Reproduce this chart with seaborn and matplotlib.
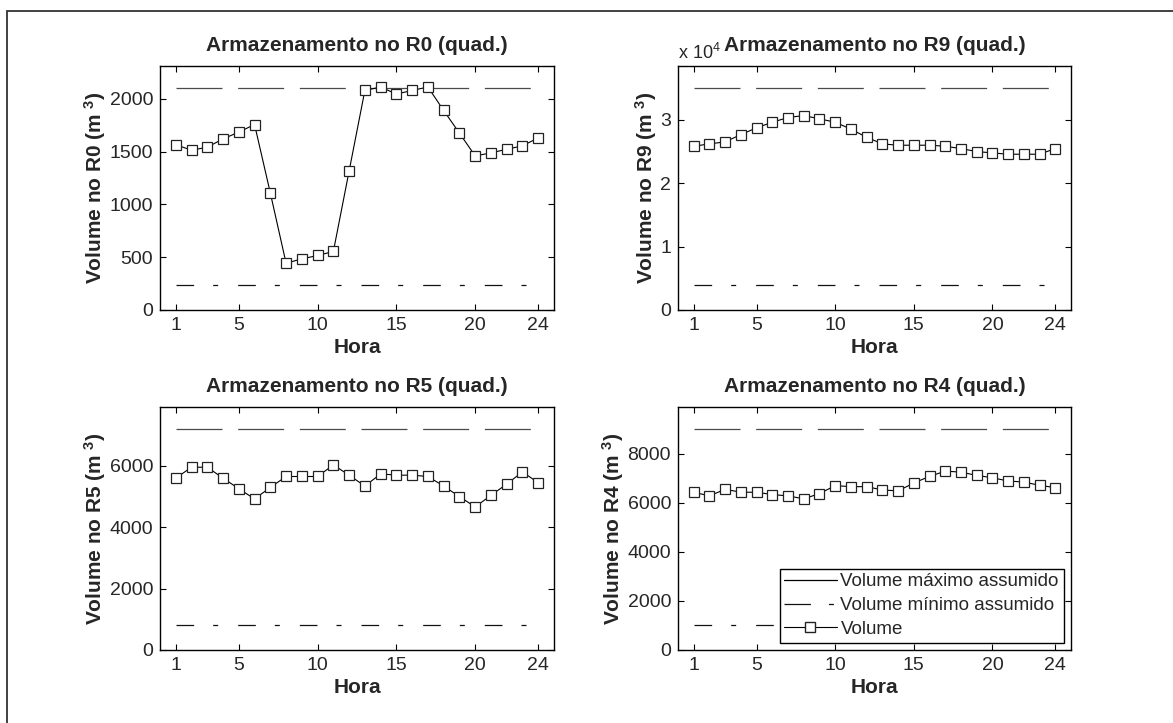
import matplotlib
matplotlib.use("Agg")
import matplotlib.pyplot as plt
import seaborn as sns
import numpy as np
import pandas as pd
from matplotlib.ticker import FuncFormatter, FixedLocator
from matplotlib.lines import Line2D
from matplotlib.patches import Rectangle

# ---------------- data ----------------
hora = list(range(1, 25))
xticks = [1, 5, 10, 15, 20, 24]

r0_vol = [1565, 1513, 1541, 1620, 1684, 1756, 1108, 443, 484, 516, 554, 1316,
          2079, 2111, 2044, 2079, 2111, 1889, 1674, 1459, 1487, 1522, 1554, 1630]
r9_vol = [25840, 26210, 26530, 27680, 28740, 29630, 30370, 30680, 30160, 29630, 28530, 27260,
          26210, 26000, 26000, 26000, 25840, 25470, 25000, 24790, 24580, 24580, 24580, 25470]
r5_vol = [5601, 5957, 5957, 5601, 5257, 4923, 5300, 5655, 5655, 5655, 6032, 5698,
          5343, 5741, 5698, 5698, 5655, 5343, 4998, 4664, 5041, 5408, 5806, 5450]
r4_vol = [6427, 6279, 6548, 6427, 6427, 6333, 6279, 6158, 6373, 6696, 6655, 6655,
          6521, 6481, 6803, 7072, 7287, 7247, 7113, 7018, 6884, 6844, 6709, 6615]

reservatorios = ["R0", "R9", "R5", "R4"]
vol_max = [2100, 35000, 7200, 9000]
vol_min = [240, 4000, 800, 1000]
volumes = [r0_vol, r9_vol, r5_vol, r4_vol]
yticks = [[0, 500, 1000, 1500, 2000],
          [0, 10000, 20000, 30000],
          [0, 2000, 4000, 6000],
          [0, 2000, 4000, 6000, 8000]]

lbl_max = "Volume máximo assumido"
lbl_min = "Volume mínimo assumido"
lbl_vol = "Volume"

# ---------------- style ----------------
sns.set_theme(style="ticks")
plt.rcParams["font.family"] = ["Liberation Sans", "DejaVu Sans"]
plt.rcParams["mathtext.default"] = "regular"
plt.rcParams["lines.scale_dashes"] = False
plt.rcParams["xtick.direction"] = "in"
plt.rcParams["ytick.direction"] = "in"
plt.rcParams["xtick.top"] = True
plt.rcParams["ytick.right"] = True

W, H = 1173, 723
fig = plt.figure(figsize=(W / 100, H / 100), dpi=100)
fig.patch.set_facecolor("white")

# outer frame (only left and top edges fall inside the image)
fig.patches.append(Rectangle((7 / W, -0.2), 1.5, 1 - 11 / H + 0.2, transform=fig.transFigure,
                             fill=False, edgecolor="#333333", linewidth=1.3))

boxes = [(160, 66, 554, 310), (678, 66, 1071, 310),
         (160, 407, 554, 650), (678, 407, 1071, 650)]

max_ls = (0, (33.1, 11.3))
min_ls = (0, (12.7, 13.7, 3.6, 14.4))
min_ls_leg = (0, (19.0, 13.0, 3.6, 30.0))

for i, (name, vmax, vmin, vol, yt, box) in enumerate(
        zip(reservatorios, vol_max, vol_min, volumes, yticks, boxes)):
    l, t, r, b = box
    ax = fig.add_axes([l / W, 1 - b / H, (r - l) / W, (b - t) / H])
    df = pd.DataFrame({"Hora": hora, "vol": vol,
                       "vmax": [vmax] * len(hora), "vmin": [vmin] * len(hora)})
    sns.lineplot(data=df, x="Hora", y="vmax", ax=ax, color="#4a4a4a", linewidth=0.9,
                 linestyle=max_ls)
    sns.lineplot(data=df, x="Hora", y="vmin", ax=ax, color="#111111", linewidth=0.9,
                 linestyle=min_ls)
    sns.lineplot(data=df, x="Hora", y="vol", ax=ax, color="black", linewidth=0.8,
                 marker="s", markersize=6.6, markerfacecolor="white",
                 markeredgecolor="#222222", markeredgewidth=0.9)
    ax.set_xlim(0, 25)
    ax.set_ylim(0, vmax * 1.1)
    ax.xaxis.set_major_locator(FixedLocator(xticks))
    ax.yaxis.set_major_locator(FixedLocator(yt))
    ax.tick_params(labelsize=14, length=4, width=0.8, color="black", pad=5)
    for sp in ax.spines.values():
        sp.set_linewidth(1.0)
        sp.set_color("black")
    ax.set_title(f"Armazenamento no {name} (quad.)", fontsize=15, fontweight="bold", pad=11)
    ax.set_xlabel("Hora", fontsize=15, fontweight="bold", labelpad=3)
    ax.set_ylabel(f"Volume no {name} (m$^{{\\ 3}}$)", fontsize=15, fontweight="bold", labelpad=1)
    if name == "R9":
        ax.yaxis.set_major_formatter(FuncFormatter(lambda v, p: f"{v / 1e4:g}"))
        ax.text(0.0, 1.012, "x 10$^{4}$", transform=ax.transAxes, fontsize=13,
                ha="left", va="bottom")
    else:
        ax.yaxis.set_major_formatter(FuncFormatter(lambda v, p: f"{v:g}"))
    if i == 3:
        handles = [Line2D([], [], color="black", linewidth=0.9, linestyle="-"),
                   Line2D([], [], color="#111111", linewidth=0.9, linestyle=min_ls_leg),
                   Line2D([], [], color="black", linewidth=0.8, marker="s", markersize=6.6,
                          markerfacecolor="white", markeredgecolor="#222222")]
        leg = ax.legend(handles, [lbl_max, lbl_min, lbl_vol], loc="lower right",
                        fontsize=13.5, frameon=True, fancybox=False, framealpha=1,
                        edgecolor="black", borderaxespad=0.4, handlelength=2.8,
                        handletextpad=0.2, labelspacing=0.35, borderpad=0.25)
        leg.get_frame().set_linewidth(1.0)

fig.savefig("out.png", dpi=100, facecolor="white")
